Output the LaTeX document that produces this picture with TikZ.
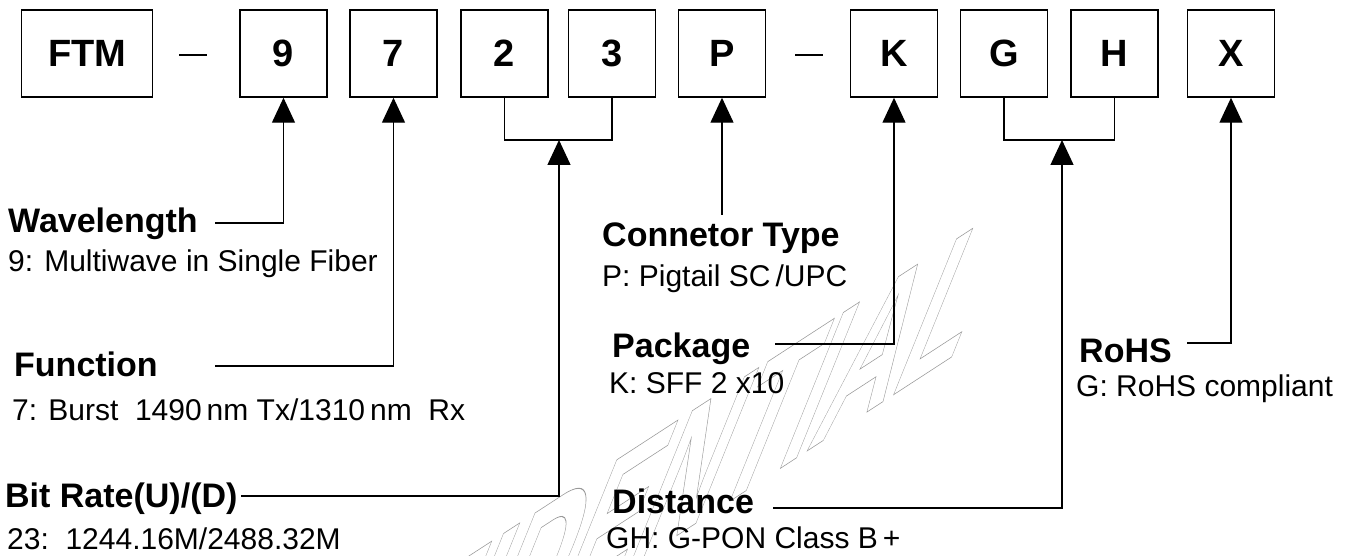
\documentclass[tikz,border=0pt]{standalone}
\usepackage{fontspec}
\setmainfont{Liberation Sans}
\newfontfamily\wmfont{Liberation Sans}
\usetikzlibrary{arrows.meta}
\begin{document}
\begin{tikzpicture}[x=1pt,y=-1pt,
  box/.style={draw,line width=1.5pt,minimum width=87pt,minimum height=87pt,inner sep=0pt,font=\fontsize{38}{44}\selectfont\bfseries},
  lbl/.style={anchor=base west,inner sep=0pt,font=\fontsize{34}{40}\selectfont\bfseries},
  desc/.style={anchor=base west,inner sep=0pt,font=\fontsize{30}{36}\selectfont},
  conn/.style={line width=1.4pt},
  arr/.style={line width=1.4pt,-{Triangle[length=25pt,width=23pt]}},
  wm/.style={anchor=base west,inner sep=0pt,text=black!40,font=\wmfont\bfseries\fontsize{150}{150}\selectfont},
  ]
\useasboundingbox (0,0) rectangle (1349,556);
% watermark
\begin{scope}
\clip (0,0) rectangle (1349,556);
\begin{scope}[shift={(112,903)}, cm={0.755,0.491,0.610,1.510,(0,0)}]
\node[wm,transform shape] (wmark) at (0,0) {\special{pdf:literal direct 1 Tr 0.6 w}CONFIDENTIAL\special{pdf:literal direct 0 Tr}};
\end{scope}
\end{scope}
% boxes
\node[box,minimum width=131pt] (bF) at (87.2,53.5) {FTM};
\node[box] (b9) at (283.5,53.5) {9};
\node[box] (b7) at (393.5,53.5) {7};
\node[box] (b2) at (504.5,53.5) {2};
\node[box] (b3) at (612,53.5) {3};
\node[box] (bP) at (722,53.5) {P};
\node[box] (bK) at (894,53.5) {K};
\node[box] (bG) at (1004,53.5) {G};
\node[box] (bH) at (1114.5,53.5) {H};
\node[box] (bX) at (1231,53.5) {X};
% dashes
\coordinate (d1a) at (179,55); \coordinate (d1b) at (207,55);
\coordinate (d2a) at (795,55); \coordinate (d2b) at (823,55);
\draw[conn] (d1a) -- (d1b);
\draw[conn] (d2a) -- (d2b);
% labels
\node[lbl] (lW) at (8,233) {Wavelength};
\node[desc] (dW) at (8,271) {9: Multiwave in Single Fiber};
\node[lbl] (lF) at (14,376) {Function};
\node[desc] (dF) at (12,420) {7: Burst\ \ 1490\,nm Tx/1310\,nm\ \ Rx};
\node[lbl] (lB) at (5,507) {Bit Rate(U)/(D)};
\node[desc] (dB) at (7,549) {23:\ \ 1244.16M/2488.32M};
\node[lbl] (lC) at (602,246) {Connetor Type};
\node[desc] (dC) at (602,286) {P: Pigtail SC\,/UPC};
\node[lbl] (lP) at (612,357) {Package};
\node[desc] (dP) at (609,393) {K: SFF 2 x10};
\node[lbl] (lD) at (612,513) {Distance};
\node[desc] (dD) at (606,548) {GH: G-PON Class B\,+};
\node[lbl] (lR) at (1079,362) {RoHS};
\node[desc] (dR) at (1076,396) {G:\ RoHS compliant};
% brackets
\coordinate (br23) at (559,140);
\coordinate (brGH) at (1062,140);
\draw[conn] (b2.south) |- (br23) -| (b3.south);
\draw[conn] (bG.south) |- (brGH) -| (bH.south);
% connectors
\coordinate (cW) at (215,223);
\coordinate (cF) at (215,366);
\coordinate (cB) at (241,496);
\coordinate (cP) at (722,215);
\coordinate (cK) at (775,344);
\coordinate (cD) at (773,508);
\coordinate (cX) at (1187,343);
\draw[arr] (cW) -| (b9.south);
\draw[arr] (cF) -| (b7.south);
\draw[arr] (cB) -| (br23);
\draw[arr] (cP) -- (bP.south);
\draw[arr] (cK) -| (bK.south);
\draw[arr] (cD) -| (brGH);
\draw[arr] (cX) -| (bX.south);
\end{tikzpicture}
\end{document}
